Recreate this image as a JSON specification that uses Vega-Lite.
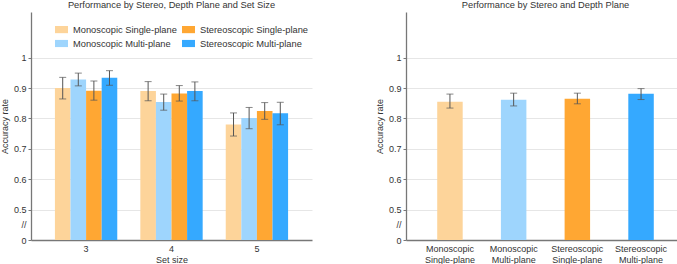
{
  "$schema": "https://vega.github.io/schema/vega-lite/v6.json",
  "padding": 0,
  "spacing": 63,
  "datasets": {
    "bysize": [
      {"set": "3", "cond": "Monoscopic Single-plane", "acc": 0.900, "lo": 0.864, "hi": 0.935},
      {"set": "3", "cond": "Monoscopic Multi-plane", "acc": 0.928, "lo": 0.907, "hi": 0.949},
      {"set": "3", "cond": "Stereoscopic Single-plane", "acc": 0.891, "lo": 0.860, "hi": 0.923},
      {"set": "3", "cond": "Stereoscopic Multi-plane", "acc": 0.934, "lo": 0.909, "hi": 0.957},
      {"set": "4", "cond": "Monoscopic Single-plane", "acc": 0.890, "lo": 0.858, "hi": 0.921},
      {"set": "4", "cond": "Monoscopic Multi-plane", "acc": 0.854, "lo": 0.827, "hi": 0.880},
      {"set": "4", "cond": "Stereoscopic Single-plane", "acc": 0.882, "lo": 0.857, "hi": 0.908},
      {"set": "4", "cond": "Stereoscopic Multi-plane", "acc": 0.890, "lo": 0.858, "hi": 0.920},
      {"set": "5", "cond": "Monoscopic Single-plane", "acc": 0.780, "lo": 0.742, "hi": 0.818},
      {"set": "5", "cond": "Monoscopic Multi-plane", "acc": 0.801, "lo": 0.766, "hi": 0.836},
      {"set": "5", "cond": "Stereoscopic Single-plane", "acc": 0.824, "lo": 0.797, "hi": 0.852},
      {"set": "5", "cond": "Stereoscopic Multi-plane", "acc": 0.817, "lo": 0.779, "hi": 0.853}
    ],
    "overall": [
      {"cond": "Monoscopic Single-plane", "acc": 0.855, "lo": 0.834, "hi": 0.880},
      {"cond": "Monoscopic Multi-plane", "acc": 0.861, "lo": 0.841, "hi": 0.883},
      {"cond": "Stereoscopic Single-plane", "acc": 0.865, "lo": 0.848, "hi": 0.883},
      {"cond": "Stereoscopic Multi-plane", "acc": 0.881, "lo": 0.862, "hi": 0.898}
    ]
  },
  "config": {
    "view": {"stroke": null},
    "font": "Liberation Sans",
    "axis": {
      "labelFont": "Liberation Sans",
      "titleFont": "Liberation Sans",
      "labelFontSize": 9,
      "titleFontSize": 9,
      "titleFontWeight": "normal",
      "labelColor": "#333",
      "titleColor": "#333",
      "domainColor": "#777",
      "domainWidth": 1.3,
      "tickColor": "#777",
      "gridColor": "#e6e6e6"
    },
    "axisY": {
      "values": [0.4, 0.45, 0.5, 0.6, 0.7, 0.8, 0.9, 1.0],
      "tickCount": 20,
      "labelOverlap": false,
      "tickSize": 3,
      "labelPadding": 2,
      "titlePadding": 4
    },
    "title": {"font": "Liberation Sans", "fontSize": 9.3, "fontWeight": "normal", "color": "#333", "offset": 2},
    "legend": {"labelFont": "Liberation Sans", "labelFontSize": 9.3, "labelColor": "#333"}
  },
  "resolve": {"scale": {"color": "independent"}},
  "hconcat": [
    {
      "title": "Performance by Stereo, Depth Plane and Set Size",
      "width": 281,
      "height": 228,
      "data": {"name": "bysize"},
      "encoding": {
        "x": {
          "field": "set", "type": "nominal", "title": "Set size",
          "scale": {"paddingInner": 0.27, "paddingOuter": 0.28},
          "axis": {"labelAngle": 0, "ticks": false, "labelPadding": 4, "titlePadding": 2, "grid": false}
        },
        "xOffset": {
          "field": "cond", "type": "nominal",
          "sort": ["Monoscopic Single-plane", "Monoscopic Multi-plane", "Stereoscopic Single-plane", "Stereoscopic Multi-plane"],
          "scale": {"paddingInner": 0, "paddingOuter": 0}
        }
      },
      "layer": [
        {
          "mark": {"type": "bar"},
          "encoding": {
            "y": {
              "field": "acc", "type": "quantitative", "title": "Accuracy rate",
              "scale": {"domain": [0.4, 1.15], "zero": false, "nice": false},
              "axis": {
                "values": [0.4, 0.45, 0.5, 0.6, 0.7, 0.8, 0.9, 1.0],
                "tickCount": 20,
                "labelOverlap": false,
                "labelExpr": "datum.value == 0.4 ? '0' : (datum.value == 0.45 ? '//' : format(datum.value, '.1~f'))",
                "tickOpacity": {"condition": {"test": "datum.value == 0.45", "value": 0}, "value": 1},
                "gridOpacity": {"condition": {"test": "datum.value < 0.48", "value": 0}, "value": 1},
                "encoding": {"labels": {"update": {"dx": {"signal": "datum.value == 0.45 ? 7 : 0"}}}}
              }
            },
            "y2": {"datum": 0.4},
            "color": {
              "field": "cond", "type": "nominal",
              "scale": {
                "domain": ["Monoscopic Single-plane", "Monoscopic Multi-plane", "Stereoscopic Single-plane", "Stereoscopic Multi-plane"],
                "range": ["#FDD49A", "#9ED5FD", "#FFA733", "#35A9FF"]
              },
              "legend": {
                "title": null, "orient": "none", "legendX": 24, "legendY": 11,
                "columns": 2, "columnPadding": 5, "rowPadding": 2,
                "symbolType": "M-1,-0.55H1V0.55H-1Z", "symbolSize": 169,
                "symbolStrokeWidth": 0, "labelOffset": 5
              }
            }
          }
        },
        {
          "mark": {"type": "rule", "color": "#555", "strokeWidth": 1},
          "encoding": {
            "y": {"field": "lo", "type": "quantitative", "title": "Accuracy rate"},
            "y2": {"field": "hi"}
          }
        },
        {
          "mark": {"type": "tick", "color": "#555", "size": 7, "thickness": 1},
          "encoding": {"y": {"field": "lo", "type": "quantitative", "title": "Accuracy rate"}}
        },
        {
          "mark": {"type": "tick", "color": "#555", "size": 7, "thickness": 1},
          "encoding": {"y": {"field": "hi", "type": "quantitative", "title": "Accuracy rate"}}
        }
      ]
    },
    {
      "title": "Performance by Stereo and Depth Plane",
      "width": 279,
      "height": 228,
      "data": {"name": "overall"},
      "encoding": {
        "x": {
          "field": "cond", "type": "nominal", "title": null,
          "sort": ["Monoscopic Single-plane", "Monoscopic Multi-plane", "Stereoscopic Single-plane", "Stereoscopic Multi-plane"],
          "scale": {"paddingInner": 0.6, "paddingOuter": 0.49},
          "axis": {"labelAngle": 0, "ticks": false, "labelPadding": 4, "labelExpr": "split(datum.label, ' ')", "labelLineHeight": 11, "grid": false}
        }
      },
      "layer": [
        {
          "mark": {"type": "bar"},
          "encoding": {
            "y": {
              "field": "acc", "type": "quantitative", "title": "Accuracy rate",
              "scale": {"domain": [0.4, 1.15], "zero": false, "nice": false},
              "axis": {
                "values": [0.4, 0.45, 0.5, 0.6, 0.7, 0.8, 0.9, 1.0],
                "tickCount": 20,
                "labelOverlap": false,
                "labelExpr": "datum.value == 0.4 ? '0' : (datum.value == 0.45 ? '//' : format(datum.value, '.1~f'))",
                "tickOpacity": {"condition": {"test": "datum.value == 0.45", "value": 0}, "value": 1},
                "gridOpacity": {"condition": {"test": "datum.value < 0.48", "value": 0}, "value": 1},
                "encoding": {"labels": {"update": {"dx": {"signal": "datum.value == 0.45 ? 7 : 0"}}}}
              }
            },
            "y2": {"datum": 0.4},
            "color": {
              "field": "cond", "type": "nominal",
              "scale": {
                "domain": ["Monoscopic Single-plane", "Monoscopic Multi-plane", "Stereoscopic Single-plane", "Stereoscopic Multi-plane"],
                "range": ["#FDD49A", "#9ED5FD", "#FFA733", "#35A9FF"]
              },
              "legend": null
            }
          }
        },
        {
          "mark": {"type": "rule", "color": "#555", "strokeWidth": 1},
          "encoding": {
            "y": {"field": "lo", "type": "quantitative", "title": "Accuracy rate"},
            "y2": {"field": "hi"}
          }
        },
        {
          "mark": {"type": "tick", "color": "#555", "size": 7, "thickness": 1},
          "encoding": {"y": {"field": "lo", "type": "quantitative", "title": "Accuracy rate"}}
        },
        {
          "mark": {"type": "tick", "color": "#555", "size": 7, "thickness": 1},
          "encoding": {"y": {"field": "hi", "type": "quantitative", "title": "Accuracy rate"}}
        }
      ]
    }
  ]
}
